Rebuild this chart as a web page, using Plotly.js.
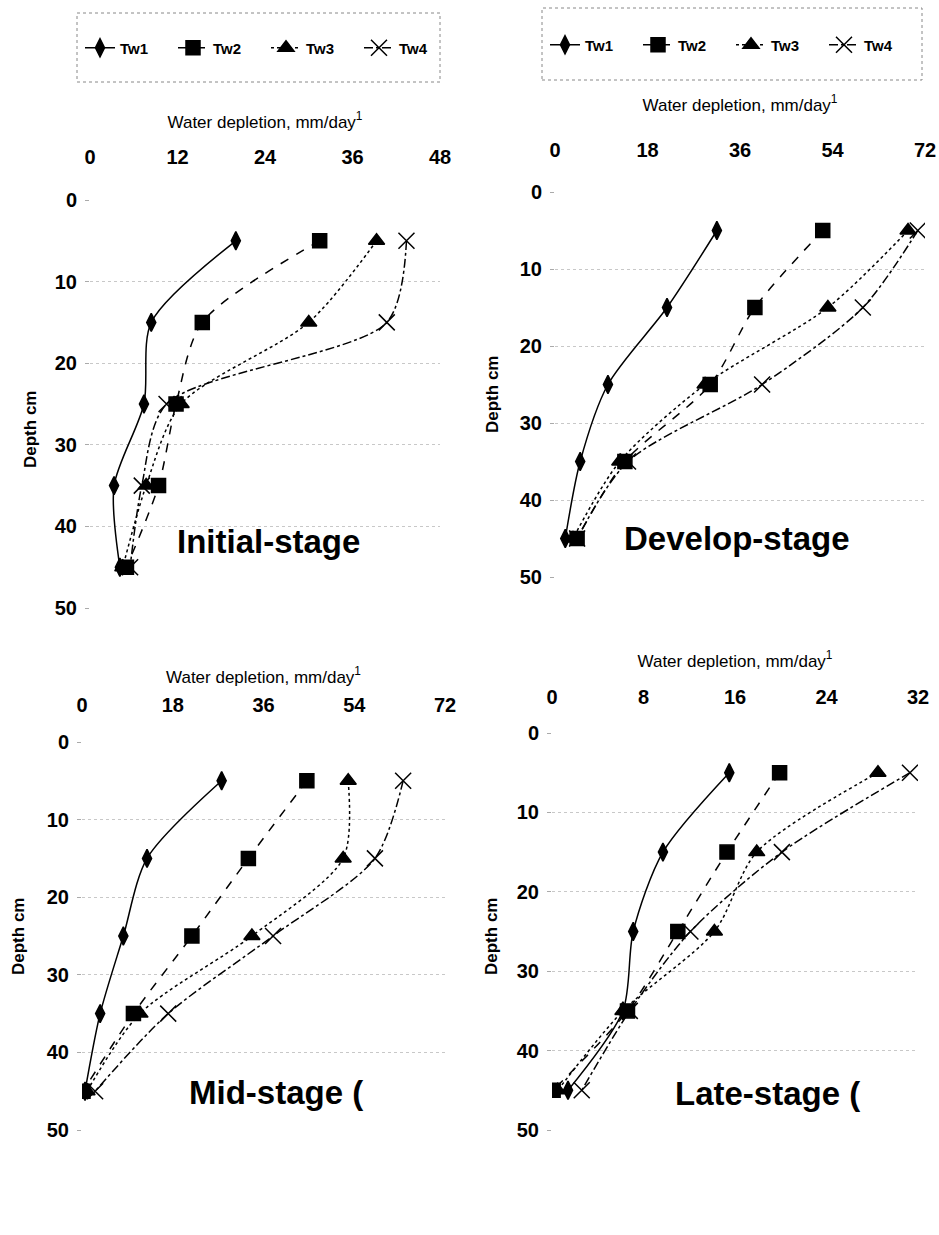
<!DOCTYPE html>
<html><head><meta charset="utf-8">
<script src="https://cdn.plot.ly/plotly-3.0.1.min.js"></script>
<style>html,body{margin:0;padding:0;background:#fff}</style>
</head><body>
<div id="chart" style="width:939px;height:1235px"></div>
<script>
// ---------- data ----------
const depth = [5, 15, 25, 35, 45];
const seriesNames = ['Tw1', 'Tw2', 'Tw3', 'Tw4'];

const initialTw1 = [20.0, 8.4, 7.4, 3.3, 4.1];
const initialTw2 = [31.5, 15.4, 11.8, 9.4, 5.0];
const initialTw3 = [39.3, 30.0, 12.5, 7.7, 4.5];
const initialTw4 = [43.4, 40.7, 10.5, 7.1, 5.5];

const developTw1 = [31.5, 21.8, 10.3, 4.9, 2.0];
const developTw2 = [52.1, 38.9, 30.2, 13.6, 4.3];
const developTw3 = [68.7, 53.1, 29.2, 12.6, 3.5];
const developTw4 = [70.6, 59.9, 40.3, 14.2, 4.3];

const midTw1 = [27.7, 12.9, 8.2, 3.6, 0.6];
const midTw2 = [44.6, 33.0, 21.8, 10.2, 0.2];
const midTw3 = [52.8, 51.8, 33.7, 11.5, 1.0];
const midTw4 = [63.7, 58.1, 37.9, 17.1, 2.6];

const lateTw1 = [15.5, 9.7, 7.1, 6.2, 1.4];
const lateTw2 = [19.9, 15.3, 11.0, 6.6, 0.1];
const lateTw3 = [28.5, 17.9, 14.2, 6.2, 0.5];
const lateTw4 = [31.3, 20.1, 12.1, 6.8, 2.6];

const stageLabels = ['Initial-stage', 'Develop-stage', 'Mid-stage (', 'Late-stage ('];
const xTicksInitial = [0, 12, 24, 36, 48];
const xTicksDevelop = [0, 18, 36, 54, 72];
const xTicksMid = [0, 18, 36, 54, 72];
const xTicksLate = [0, 8, 16, 24, 32];
const depthTicks = [0, 10, 20, 30, 40, 50];
const xTitle = 'Water depletion, mm/day<sup>1</sup>';
const yTitle = 'Depth cm';

// ---------- layout helpers ----------
const W = 939, H = 1235;
const px = v => v / W;
const py = v => 1 - v / H;
const FONT = '"Liberation Sans", Arial, sans-serif';

const panels = [
  {data: [initialTw1, initialTw2, initialTw3, initialTw4], ticks: xTicksInitial, x: [90, 440], y: [200, 608],
   label: [175, 541], ytitle: [31, 430], tickOff: 31, titleOff: 13, legend: 'legend'},
  {data: [developTw1, developTw2, developTw3, developTw4], ticks: xTicksDevelop, x: [555, 925], y: [192, 577],
   label: [622, 539], ytitle: [492, 395], tickOff: 30, titleOff: 23, legend: 'legend2'},
  {data: [midTw1, midTw2, midTw3, midTw4], ticks: xTicksMid, x: [82, 445], y: [742, 1130],
   label: [187, 1092], ytitle: [18, 937], tickOff: 25, titleOff: 6, legend: null},
  {data: [lateTw1, lateTw2, lateTw3, lateTw4], ticks: xTicksLate, x: [552, 918], y: [733, 1130],
   label: [673, 1093], ytitle: [491, 937], tickOff: 24, titleOff: 14, legend: null}
];

const styles = [
  {dash: 'solid', symbol: 'diamond-tall', size: 13},
  {dash: 'dash', symbol: 'square', size: 14},
  {dash: 'dot', symbol: 'triangle-up', size: 14},
  {dash: 'dashdot', symbol: 'x-thin-open', size: 16}
];

const traces = [];
const layout = {
  width: W, height: H,
  margin: {l: 0, r: 0, t: 0, b: 0, autoexpand: false},
  paper_bgcolor: '#fff', plot_bgcolor: '#fff',
  showlegend: true,
  annotations: [], shapes: []
};

panels.forEach((p, i) => {
  const n = i + 1;
  const xa = 'x' + (n === 1 ? '' : n), ya = 'y' + (n === 1 ? '' : n);
  p.data.forEach((vals, s) => {
    const st = styles[s];
    const t = {
      type: 'scatter', mode: 'lines+markers', name: seriesNames[s],
      x: vals, y: depth, xaxis: xa, yaxis: ya,
      line: {color: '#000', width: 1.5, dash: st.dash, shape: 'spline', smoothing: 0.8},
      marker: {symbol: st.symbol, size: st.size, color: '#000', line: {color: '#000', width: 1.5}},
      showlegend: !!p.legend
    };
    if (p.legend) t.legend = p.legend;
    traces.push(t);
  });
  const axFont = {family: FONT, size: 20, color: '#000', weight: 'bold'};
  layout['xaxis' + (n === 1 ? '' : n)] = {
    domain: [px(p.x[0]), px(p.x[1])], range: [0, p.ticks[p.ticks.length - 1]],
    anchor: ya, side: 'top', tickmode: 'array', tickvals: p.ticks,
    showgrid: false, zeroline: false, showline: false, ticks: '',
    ticklabelstandoff: p.tickOff, tickfont: axFont, fixedrange: true,
    title: {text: xTitle, font: {family: FONT, size: 17, color: '#000'}, standoff: p.titleOff}
  };
  layout['yaxis' + (n === 1 ? '' : n)] = {
    domain: [py(p.y[1]), py(p.y[0])], range: [50, 0],
    anchor: xa, tickmode: 'array', tickvals: depthTicks,
    showgrid: true, gridcolor: '#c8c8c8', griddash: 'dot', gridwidth: 1,
    zeroline: false, showline: false, ticks: 'outside', ticklen: 4, tickcolor: '#aaa',
    ticklabelstandoff: 4, tickfont: axFont, fixedrange: true
  };
  layout.annotations.push({
    xref: 'paper', yref: 'paper', x: px(p.ytitle[0]), y: py(p.ytitle[1]),
    xanchor: 'center', yanchor: 'middle', showarrow: false, textangle: -90,
    text: yTitle, font: {family: FONT, size: 17, color: '#000', weight: 'bold'}
  });
  layout.annotations.push({
    xref: 'paper', yref: 'paper', x: px(p.label[0]), y: py(p.label[1]),
    xanchor: 'left', yanchor: 'middle', showarrow: false,
    text: stageLabels[i], font: {family: FONT, size: 33, color: '#000', weight: 'bold'}
  });
});

const legendCommon = {
  orientation: 'h', xanchor: 'left', yanchor: 'middle',
  bgcolor: 'rgba(0,0,0,0)', borderwidth: 0,
  font: {family: FONT, size: 15, color: '#000', weight: 'bold'},
  entrywidth: 48, entrywidthmode: 'pixels', itemclick: false, itemdoubleclick: false
};
layout.legend = Object.assign({}, legendCommon, {x: px(80), y: py(48)});
layout.legend2 = Object.assign({}, legendCommon, {x: px(545), y: py(45)});

layout.shapes.push(
  {type: 'rect', xref: 'paper', yref: 'paper', x0: px(77), x1: px(440), y0: py(82), y1: py(13),
   line: {color: '#888', width: 1, dash: 'dot'}},
  {type: 'rect', xref: 'paper', yref: 'paper', x0: px(542), x1: px(922), y0: py(80), y1: py(8),
   line: {color: '#888', width: 1, dash: 'dot'}}
);

Plotly.newPlot('chart', traces, layout, {staticPlot: true, displayModeBar: false});
</script>
</body></html>
